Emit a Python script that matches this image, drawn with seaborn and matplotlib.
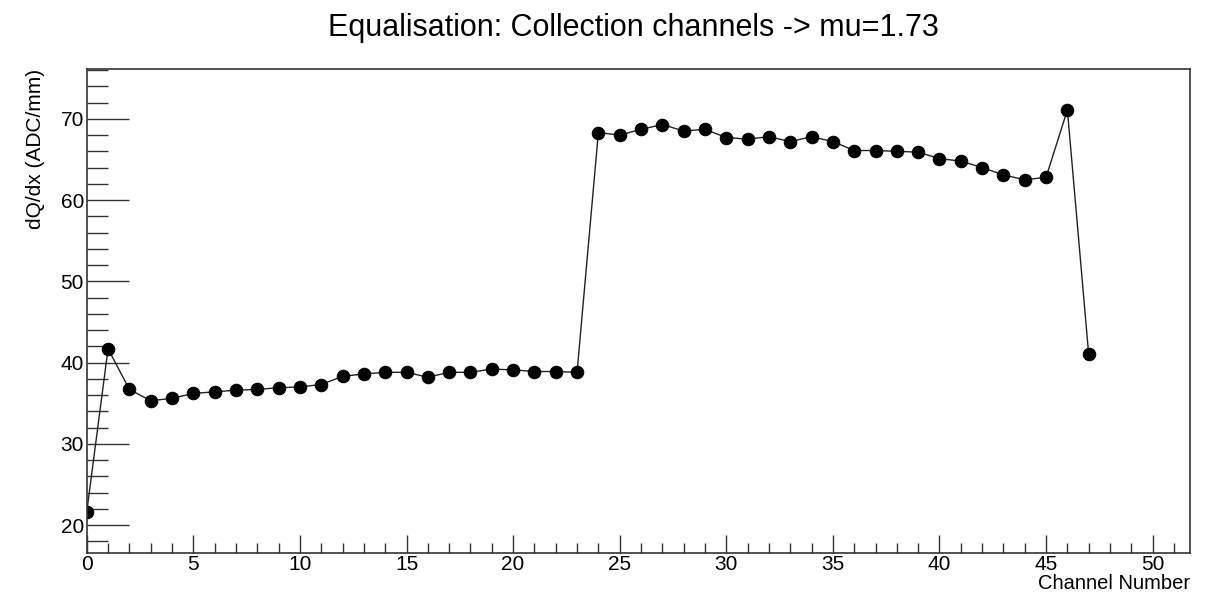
import numpy as np
import pandas as pd
import matplotlib
matplotlib.use("Agg")
import matplotlib.pyplot as plt
import seaborn as sns
from matplotlib.ticker import MultipleLocator

# Collection-channel dQ/dx values after equalisation
channels = list(range(48))
dqdx = [
    21.6, 41.7, 36.7, 35.3, 35.6, 36.2, 36.4, 36.6, 36.7, 36.9,
    37.0, 37.3, 38.3, 38.6, 38.8, 38.8, 38.2, 38.8, 38.8, 39.2,
    39.1, 38.9, 38.9, 38.8, 68.3, 68.0, 68.7, 69.3, 68.5, 68.7,
    67.7, 67.5, 67.8, 67.2, 67.8, 67.2, 66.1, 66.1, 66.0, 65.9,
    65.1, 64.8, 64.0, 63.1, 62.5, 62.8, 71.1, 41.0,
]

title = "Equalisation: Collection channels -> mu=1.73"
xlabel = "Channel Number"
ylabel = "dQ/dx (ADC/mm)"

df = pd.DataFrame({"channel": channels, "dqdx": dqdx})

sns.set_style("ticks")
plt.rcParams["font.family"] = ["Liberation Sans", "DejaVu Sans"]
plt.rcParams["text.color"] = "black"
plt.rcParams["axes.labelcolor"] = "black"
plt.rcParams["xtick.color"] = "black"
plt.rcParams["ytick.color"] = "black"

fig = plt.figure(figsize=(12.13, 5.92), dpi=100)
ax = fig.add_axes([0.0715, 0.0664, 0.9095, 0.8166])

sns.lineplot(data=df, x="channel", y="dqdx", ax=ax, color="#222222",
             linewidth=1.0, marker="o", markersize=9,
             markeredgecolor="black", markerfacecolor="black")

ax.set_xlim(0, 51.75)
ax.set_ylim(16.6, 76.1)

ax.xaxis.set_major_locator(MultipleLocator(5))
ax.xaxis.set_minor_locator(MultipleLocator(1))
ax.yaxis.set_major_locator(MultipleLocator(10))
ax.yaxis.set_minor_locator(MultipleLocator(2))

ax.tick_params(axis="x", which="major", direction="in", length=13,
               width=1.0, color="#333333", labelsize=15, pad=2,
               top=False)
ax.tick_params(axis="x", which="minor", direction="in", length=7,
               width=1.0, color="#333333", top=False)
ax.tick_params(axis="y", which="major", direction="in", length=30,
               width=1.0, color="#333333", labelsize=15, pad=2,
               right=False)
ax.tick_params(axis="y", which="minor", direction="in", length=15,
               width=1.0, color="#333333", right=False)

for s in ax.spines.values():
    s.set_color("#333333")
    s.set_linewidth(1.2)

ax.set_xlabel(xlabel, fontsize=14.5, loc="right")
ax.xaxis.set_label_coords(1.0, -0.045)
ax.set_ylabel(ylabel, fontsize=15, loc="top")
ax.yaxis.set_label_coords(-0.038, 1.0)
fig.text(0.522, 1 - 36 / 592, title, fontsize=22, ha="center",
         va="baseline")

fig.savefig("out.png", dpi=100)
